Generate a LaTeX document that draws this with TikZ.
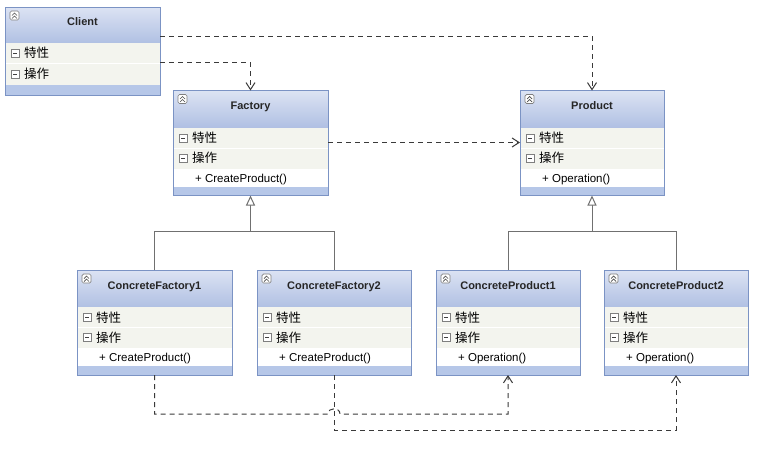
\documentclass[tikz,border=0pt]{standalone}
\usepackage{fontspec}
\setmainfont{Liberation Sans}
\newfontfamily\cjk{Noto Sans CJK SC}
\usetikzlibrary{arrows.meta}
\definecolor{hdtop}{HTML}{DCE3F3}
\definecolor{hdbot}{HTML}{B0C0E3}
\definecolor{rowbg}{HTML}{F3F4EE}
\definecolor{bandc}{HTML}{B6C7E8}
\definecolor{bordc}{HTML}{7B93C4}
\definecolor{iconc}{HTML}{7F7F7F}
\definecolor{linec}{HTML}{3A3A3A}
\definecolor{inhc}{HTML}{707070}
\tikzset{
  frame/.style={draw=bordc, line width=1pt, inner sep=0pt, outer sep=0pt},
  titletext/.style={font=\fontsize{11}{12}\selectfont\bfseries, text=black!85, inner sep=0pt, anchor=base},
  rowtext/.style={font=\cjk\fontsize{12.5}{13}\selectfont, anchor=base west, inner sep=0pt},
  methtext/.style={font=\fontsize{11.5}{12}\selectfont, anchor=base west, inner sep=0pt},
  minusbox/.style={draw=iconc, fill=white, line width=0.8pt},
  sepline/.style={draw=white, line width=1pt},
  dep/.style={draw=linec, line width=1pt, dash pattern=on 5pt off 4pt, -{Straight Barb[length=7pt,width=9pt,line width=1pt]}},
  inh/.style={draw=inhc, line width=1pt, -{Triangle[open,length=10pt,width=9pt,fill=white]}},
  inhline/.style={draw=inhc, line width=1pt}
}
\newcommand{\collapseicon}{%
  \draw[draw=iconc, fill=white, line width=0.7pt, rounded corners=1.5pt] (5,4) rectangle (14,13);
  \draw[draw=black!70, line width=0.7pt] (7,8.5) -- (9.5,6) -- (12,8.5) (7,11.5) -- (9.5,9) -- (12,11.5);
}
\newcommand{\minusicon}[1]{%
  \draw[minusbox] (6,#1-4) rectangle (14,#1+4);
  \draw[draw=black!75, line width=0.8pt] (8,#1) -- (12,#1);
}
\newcommand{\umlclass}[6]{%
  \begin{scope}[shift={(#2,#3)}]
    \shade[top color=hdtop, bottom color=hdbot] (0,0) rectangle (#4,37);
    \fill[rowbg] (0,37) rectangle (#4,78);
    \draw[sepline] (0,57.5) -- (#4,57.5);
    \fill[white] (0,78) rectangle (#4,96);
    \fill[bandc] (0,96) rectangle (#4,105);
    \collapseicon
    \node[titletext] (#1-title) at (#4/2,19) {#5};
    \minusicon{47.5}
    \node[rowtext] (#1-attr) at (19,52.2) {特性};
    \minusicon{67.5}
    \node[rowtext] (#1-ops) at (19,72.2) {操作};
    \node[methtext] (#1-m) at (22,91.5) {+ #6};
  \end{scope}
  \node[frame, minimum width=#4, minimum height=105, anchor=north west] (#1) at (#2,#3) {};
}
\begin{document}
\begin{tikzpicture}[x=1pt, y=-1pt]
\useasboundingbox[fill=white] (0,0) rectangle (762,455);
% Client
\begin{scope}[shift={(5,7)}]
  \shade[top color=hdtop, bottom color=hdbot] (0,0) rectangle (155,36);
  \fill[rowbg] (0,36) rectangle (155,78);
  \draw[sepline] (0,56.5) -- (155,56.5);
  \fill[bandc] (0,78) rectangle (155,88);
  \collapseicon
  \node[titletext] (client-title) at (77.5,18) {Client};
  \minusicon{46}
  \node[rowtext] (client-attr) at (19,50.7) {特性};
  \minusicon{67}
  \node[rowtext] (client-ops) at (19,71.7) {操作};
\end{scope}
\node[frame, minimum width=155, minimum height=88, anchor=north west] (client) at (5,7) {};

\umlclass{factory}{173}{90.5}{155}{Factory}{CreateProduct()}
\umlclass{product}{520}{90.5}{144}{Product}{Operation()}
\umlclass{cf1}{77}{270}{155}{ConcreteFactory1}{CreateProduct()}
\umlclass{cf2}{257}{270}{154}{ConcreteFactory2}{CreateProduct()}
\umlclass{cp1}{436}{270}{144}{ConcreteProduct1}{Operation()}
\umlclass{cp2}{604}{270}{144}{ConcreteProduct2}{Operation()}

% dependencies from Client
\draw[dep] ([yshift=-29pt]client.north east) -| (product.north);
\draw[dep] ([yshift=-55.5pt]client.north east) -| (factory.north);
\draw[dep] ([yshift=-52pt]factory.north east) -- ([yshift=-52pt]product.north west);

% inheritance
\coordinate (fj) at (factory.south |- 0,231.5);
\coordinate (pj) at (product.south |- 0,231.5);
\draw[inh] (fj) -- (factory.south);
\draw[inhline] (cf1.north) |- (fj) -| (cf2.north);
\draw[inh] (pj) -- (product.south);
\draw[inhline] (cp1.north) |- (pj) -| (cp2.north);

% bottom dependencies
\coordinate (hopa) at (cf2.south |- 0,414);
\draw[dep] (cf1.south) |- ([xshift=-6pt]hopa)
  .. controls ([xshift=-6pt,yshift=7pt]hopa) and ([xshift=6pt,yshift=7pt]hopa) .. ([xshift=6pt]hopa)
  -| (cp1.south);
\draw[dep] (cf2.south) |- (0,430 -| cp2.south) -- (cp2.south);
\end{tikzpicture}
\end{document}
